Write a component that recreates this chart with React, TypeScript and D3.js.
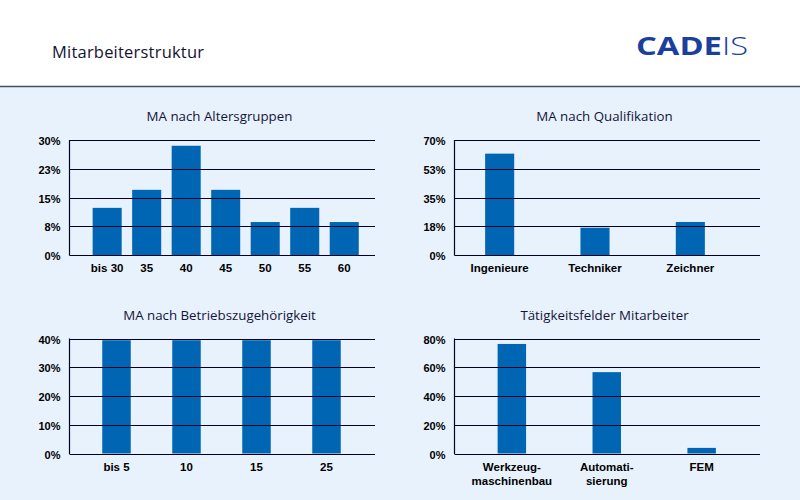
import { useEffect, useRef } from "react";
import * as d3 from "d3";

// Altersgruppen
const ageGroups = ["bis 30", "35", "40", "45", "50", "55", "60"];
const ageValues = [12.3, 17, 28.5, 17, 8.6, 12.3, 8.6];

// Qualifikation
const qualGroups = ["Ingenieure", "Techniker", "Zeichner"];
const qualValues = [61.7, 16.6, 20.1];

// Betriebszugehörigkeit
const tenureGroups = ["bis 5", "10", "15", "25"];
const tenureValues = [39.4, 39.4, 39.4, 39.4];

// Tätigkeitsfelder (labels may wrap onto two lines)
const fieldGroups = ["Werkzeug-|maschinenbau", "Automati-|sierung", "FEM"];
const fieldValues = [76.2, 56.6, 3.9];

type Panel = {
  title: string;
  cats: string[];
  values: number[];
  max: number;
  left: number;
  top: number;
  bandStart: number;
  bandEnd: number;
  pad: number;
};

const panels: Panel[] = [
  { title: "MA nach Altersgruppen", cats: ageGroups, values: ageValues, max: 30, left: 69.5, top: 140, bandStart: 87.4, bandEnd: 364, pad: 0.265 },
  { title: "MA nach Qualifikation", cats: qualGroups, values: qualValues, max: 70, left: 454.5, top: 140, bandStart: 452, bandEnd: 738, pad: 0.695 },
  { title: "MA nach Betriebszugehörigkeit", cats: tenureGroups, values: tenureValues, max: 40, left: 69.5, top: 338.5, bandStart: 81.5, bandEnd: 361.5, pad: 0.593 },
  { title: "Tätigkeitsfelder Mitarbeiter", cats: fieldGroups, values: fieldValues, max: 80, left: 454.5, top: 338.5, bandStart: 464.4, bandEnd: 749.1, pad: 0.7 },
];

const W = 800;
const H = 500;
const plotW = 305.5;
const plotH = 115;

const App = () => {
  const svgRef = useRef<SVGSVGElement | null>(null);

  useEffect(() => {
    if (!svgRef.current) return;
    const svg = d3.select(svgRef.current);
    svg.selectAll("*").remove();

    svg.append("rect").attr("width", W).attr("height", H).attr("fill", "#e8f2fd");
    svg.append("rect").attr("width", W).attr("height", 86).attr("fill", "#ffffff");
    svg
      .append("line")
      .attr("x1", 0)
      .attr("x2", W)
      .attr("y1", 86.5)
      .attr("y2", 86.5)
      .attr("stroke", "#3e5262")
      .attr("stroke-width", 1.5);

    svg
      .append("text")
      .attr("x", 52)
      .attr("y", 58)
      .attr("font-family", "'Open Sans', sans-serif")
      .attr("font-size", 16.5)
      .attr("fill", "#141433")
      .attr("textLength", 152)
      .text("Mitarbeiterstruktur");

    const logo = svg
      .append("text")
      .attr("x", 636)
      .attr("y", 55)
      .attr("font-family", "'Open Sans', sans-serif")
      .attr("font-size", 25)
      .attr("fill", "#1b3f9c")
      .attr("textLength", 112)
      .attr("lengthAdjust", "spacingAndGlyphs");
    logo.append("tspan").attr("font-weight", "bold").text("CADE");
    logo.append("tspan").attr("font-weight", 300).text("IS");

    panels.forEach((p) => {
      const g = svg.append("g");
      const y = d3.scaleLinear().domain([0, p.max]).range([p.top + plotH, p.top]);
      const x = d3.scaleBand<string>().domain(p.cats).range([p.bandStart, p.bandEnd]).paddingInner(p.pad).paddingOuter(p.pad / 2);
      const ticks = d3.range(5).map((i) => (p.max / 4) * i);

      g.append("text")
        .attr("x", p.left + 150)
        .attr("y", p.top - 19)
        .attr("text-anchor", "middle")
        .attr("font-family", "'Open Sans', sans-serif")
        .attr("font-size", 13.3)
        .attr("fill", "#14143a")
        .text(p.title);

      g.selectAll("rect.bar")
        .data(p.values)
        .join("rect")
        .attr("class", "bar")
        .attr("x", (_, i) => x(p.cats[i]) ?? 0)
        .attr("width", x.bandwidth())
        .attr("y", (d) => y(d))
        .attr("height", (d) => y(0) - y(d))
        .attr("fill", "#0066b3");

      g.selectAll("line.grid")
        .data(ticks)
        .join("line")
        .attr("class", "grid")
        .attr("x1", p.left)
        .attr("x2", p.left + plotW)
        .attr("y1", (d) => Math.round(y(d)) + 0.5)
        .attr("y2", (d) => Math.round(y(d)) + 0.5)
        .attr("stroke", "#000022")
        .attr("stroke-width", 1.2);

      g.append("line")
        .attr("x1", p.left)
        .attr("x2", p.left)
        .attr("y1", y(p.max))
        .attr("y2", y(0) + 0.5)
        .attr("stroke", "#000022")
        .attr("stroke-width", 1.2);

      g.selectAll("text.ytick")
        .data(ticks)
        .join("text")
        .attr("class", "ytick")
        .attr("x", p.left - 9)
        .attr("y", (d) => y(d) + 5)
        .attr("text-anchor", "end")
        .attr("font-family", "'Liberation Sans', Arial, sans-serif")
        .attr("font-weight", "bold")
        .attr("font-size", 11)
        .attr("fill", "#000000")
        .text((d) => `${Math.round(d)}%`);

      const labels = g
        .selectAll("text.xtick")
        .data(p.cats)
        .join("text")
        .attr("class", "xtick")
        .attr("x", (d) => (x(d) ?? 0) + x.bandwidth() / 2)
        .attr("y", p.top + plotH + 17)
        .attr("text-anchor", "middle")
        .attr("font-family", "'Liberation Sans', Arial, sans-serif")
        .attr("font-weight", "bold")
        .attr("font-size", 11.5)
        .attr("fill", "#000000");
      labels.each(function (d) {
        const t = d3.select(this);
        d.split("|").forEach((part, i) => {
          t.append("tspan")
            .attr("x", (x(d) ?? 0) + x.bandwidth() / 2)
            .attr("dy", i === 0 ? 0 : 14)
            .text(part);
        });
      });
    });
  }, []);

  return (
    <svg
      ref={svgRef}
      width={W}
      height={H}
      style={{ position: "absolute", left: 0, top: 0, display: "block" }}
    />
  );
};

export default App;
